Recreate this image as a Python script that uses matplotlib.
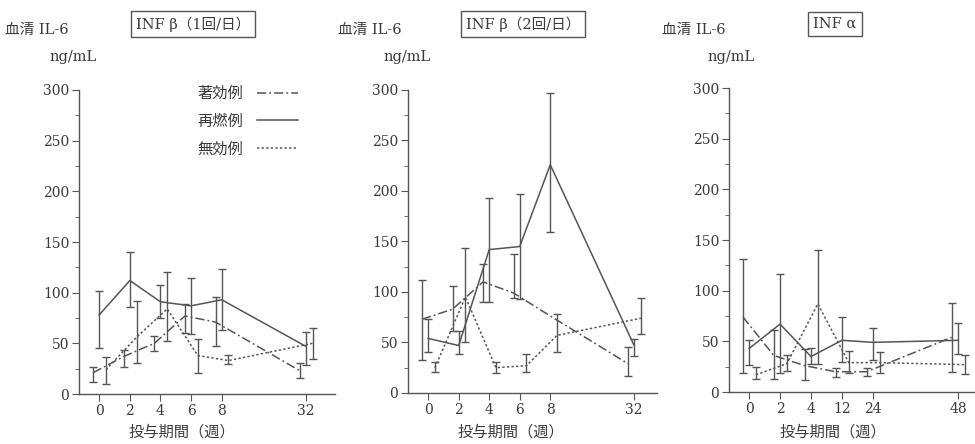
import numpy as np
import matplotlib
matplotlib.use("Agg")
import matplotlib.pyplot as plt
import matplotlib.transforms as mtransforms
from matplotlib.lines import Line2D
from matplotlib.ticker import MultipleLocator

plt.rcParams['font.family'] = ['DejaVu Serif', 'Noto Sans CJK JP']

# x categories (weeks)
weeks_b = ['0', '2', '4', '6', '8', '32']
weeks_a = ['0', '2', '4', '12', '24', '48']
pos = [0, 1, 2, 3, 4, 6.75]

# INF beta once a day: mean, low, high
ex1 = [21, 37, 50, 77, 71, 23]
ex1_lo = [12, 27, 42, 60, 47, 16]
ex1_hi = [27, 43, 57, 89, 96, 31]
re1 = [78, 112, 91, 87, 93, 47]
re1_lo = [45, 86, 75, 59, 63, 29]
re1_hi = [102, 140, 108, 114, 123, 61]
no1 = [24, 56, 84, 38, 33, 50]
no1_lo = [10, 31, 52, 21, 30, 35]
no1_hi = [37, 92, 120, 54, 38, 65]

# INF beta twice a day (no bar seen for 著効例 at week 8)
ex2 = [73, 83, 110, 99, 80, 29]
ex2_lo = [33, 61, 90, 94, None, 17]
ex2_hi = [112, 106, 128, 138, None, 46]
re2 = [54, 47, 142, 145, 226, 47]
re2_lo = [41, 39, 90, 93, 159, 37]
re2_hi = [73, 61, 193, 197, 297, 53]
no2 = [25, 95, 25, 27, 57, 74]
no2_lo = [21, 50, 20, 21, 41, 58]
no2_hi = [31, 144, 31, 39, 78, 94]

# INF alpha
ex3 = [74, 36, 26, 20, 20, 54]
ex3_lo = [19, 13, 12, 15, 16, 20]
ex3_hi = [131, 61, 42, 24, 24, 88]
re3 = [43, 67, 35, 51, 49, 51]
re3_lo = [27, 19, 28, 30, 32, 38]
re3_hi = [51, 116, 43, 74, 63, 68]
no3 = [17, 28, 87, 29, 29, 27]
no3_lo = [13, 21, 28, 19, 19, 18]
no3_hi = [25, 37, 140, 40, 39, 37]

labels = ['著効例', '再燃例', '無効例']
styles = [(0, (6, 2, 1.2, 2)), '-', (0, (1.5, 1.5))]
offsets = [-0.2, 0, 0.22]
col = '#555555'
tcol = '#3a3a3a'

fig = plt.figure(figsize=(9.75, 4.44), dpi=100)

panels = [
    dict(rect=[0.0810, 0.1126, 0.2626, 0.6847], xlim=(-0.66, 7.7), ticks=weeks_b,
         series=[(ex1, ex1_lo, ex1_hi), (re1, re1_lo, re1_hi), (no1, no1_lo, no1_hi)],
         title='INF β（1回/日）', tx=193, lx=5),
    dict(rect=[0.4185, 0.1149, 0.2554, 0.6824], xlim=(-0.66, 7.5), ticks=weeks_b,
         series=[(ex2, ex2_lo, ex2_hi), (re2, re2_lo, re2_hi), (no2, no2_lo, no2_hi)],
         title='INF β（2回/日）', tx=523, lx=338),
    dict(rect=[0.7477, 0.1171, 0.2523, 0.6847], xlim=(-0.65, 7.3), ticks=weeks_a,
         series=[(ex3, ex3_lo, ex3_hi), (re3, re3_lo, re3_hi), (no3, no3_lo, no3_hi)],
         title='INF α', tx=835, lx=662),
]

axes = []
for p in panels:
    ax = fig.add_axes(p['rect'])
    for (m, lo, hi), ls, off in zip(p['series'], styles, offsets):
        m = np.array(m, float)
        lo = np.array([np.nan if v is None else v for v in lo], float)
        hi = np.array([np.nan if v is None else v for v in hi], float)
        x = np.array(pos) + off
        ax.plot(x, m, color=col, lw=1.1, ls=ls)
        ax.errorbar(x, m, yerr=[m - lo, hi - m], fmt='none', ecolor=col,
                    capsize=3, elinewidth=1.0, capthick=1.0)
    ax.set_xlim(*p['xlim'])
    ax.set_ylim(0, 300)
    ax.set_xticks(pos)
    ax.set_xticklabels(p['ticks'])
    ax.yaxis.set_major_locator(MultipleLocator(50))
    ax.yaxis.set_minor_locator(MultipleLocator(25))
    for s in ['top', 'right']:
        ax.spines[s].set_visible(False)
    for s in ['left', 'bottom']:
        ax.spines[s].set_color(col)
        ax.spines[s].set_linewidth(1.0)
    ax.tick_params(axis='both', which='major', length=5, color=col, labelsize=10,
                   labelcolor=tcol, pad=2)
    ax.tick_params(axis='y', which='minor', length=3, color=col)
    ax.patch.set_alpha(0)
    axes.append(ax)

    fig.text(p['tx'] / 975, 1 - 24 / 444, p['title'], ha='center', va='center',
             fontsize=10.5, color=tcol,
             bbox=dict(boxstyle='square,pad=0.35', fc='white', ec=col, lw=1))
    fig.text(p['lx'] / 975, 1 - 30 / 444, '血清 IL-6', ha='left', va='center',
             fontsize=10.5, color=tcol)
    fig.text((p['lx'] + 45) / 975, 1 - 57 / 444, 'ng/mL', ha='left', va='center',
             fontsize=10.5, color=tcol)
    trans = mtransforms.blended_transform_factory(ax.transData, fig.transFigure)
    ax.text(2.7, 1 - 432 / 444, '投与期間（週）', transform=trans, ha='center',
            va='center', fontsize=11, color=tcol)

handles = [Line2D([], [], color=col, lw=1.1, ls=ls) for ls in styles]
axes[0].legend(handles, labels, loc='upper left',
               bbox_to_anchor=(190 / 975, 1 - 79 / 444),
               bbox_transform=fig.transFigure, frameon=False, markerfirst=False,
               fontsize=11, labelspacing=0.9, handlelength=2.7, handletextpad=0.9,
               borderpad=0, labelcolor=tcol)

fig.savefig("out.png", dpi=100)
